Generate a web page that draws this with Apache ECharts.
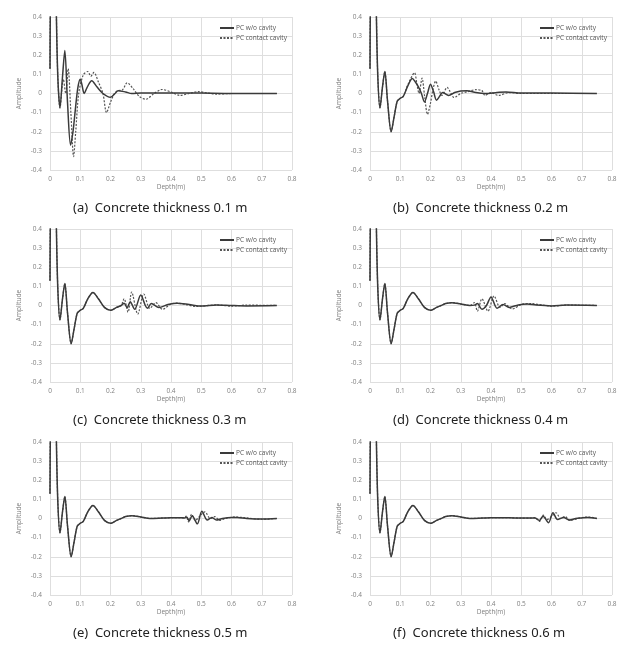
<!DOCTYPE html>
<html>
<head>
<meta charset="utf-8">
<script src="https://cdn.jsdelivr.net/npm/echarts@6/dist/echarts.min.js"></script>
<style>
html, body { margin: 0; padding: 0; background: #fff; }
#chart { width: 643px; height: 649px; }
</style>
</head>
<body>
<div id="chart"></div>
<script>
var seriesNames = ['PC w/o cavity', 'PC contact cavity'];
var captions = [
	'(a)  Concrete thickness 0.1 m',
	'(b)  Concrete thickness 0.2 m',
	'(c)  Concrete thickness 0.3 m',
	'(d)  Concrete thickness 0.4 m',
	'(e)  Concrete thickness 0.5 m',
	'(f)  Concrete thickness 0.6 m'
];

// common start of every trace (depth m, amplitude)
var startUp = [[0, 0.13], [0.001, 0.42], [0.006, 0.9], [0.012, 1.0], [0.018, 0.85], [0.021, 0.42], [0.026, 0.08], [0.033, -0.075]];
var baseEarly = [[0.041, 0.03], [0.049, 0.115], [0.058, -0.04], [0.07, -0.2], [0.08, -0.12], [0.09, -0.04], [0.1, -0.025], [0.11, -0.015]];
var baseHump = [[0.125, 0.035], [0.142, 0.068], [0.16, 0.035], [0.18, -0.01], [0.2, -0.025], [0.22, -0.01], [0.235, 0.0]];
var baseLate1 = [[0.25, 0.01], [0.27, 0.015], [0.3, 0.008], [0.33, 0.0]];
var baseLate2 = [[0.37, 0.002], [0.4, 0.004], [0.43, 0.004]];
var baseLate3 = [[0.46, 0.004], [0.5, 0.002], [0.53, 0.002]];

// (a) 0.1 m
var aSolid = [[0.041, 0.08], [0.049, 0.225], [0.058, -0.05], [0.068, -0.27], [0.076, -0.2], [0.084, -0.08], [0.092, 0.03], [0.1, 0.075], [0.105, 0.05], [0.113, 0.0], [0.122, 0.03], [0.138, 0.067], [0.155, 0.035], [0.175, 0.0], [0.2, -0.02], [0.215, 0.0], [0.225, 0.015], [0.25, 0.008], [0.27, 0.0], [0.3, 0.002], [0.4, 0.003], [0.5, 0.002], [0.6, 0.0], [0.75, 0.0]];
var aDashed = [[0.044, 0.075], [0.052, 0.0], [0.06, 0.13], [0.069, -0.1], [0.078, -0.33], [0.085, -0.2], [0.095, 0.0], [0.11, 0.097], [0.125, 0.115], [0.135, 0.09], [0.145, 0.11], [0.16, 0.06], [0.175, 0.0], [0.187, -0.1], [0.2, -0.045], [0.213, 0.0], [0.225, 0.015], [0.24, 0.02], [0.255, 0.056], [0.275, 0.025], [0.295, -0.015], [0.317, -0.03], [0.34, -0.005], [0.37, 0.021], [0.4, 0.008], [0.43, -0.01], [0.46, 0.0], [0.49, 0.01], [0.52, 0.003], [0.55, -0.003], [0.6, 0.0], [0.75, 0.0]];

// (b) 0.2 m
var bSolid = [[0.125, 0.04], [0.14, 0.079], [0.15, 0.06], [0.16, 0.035], [0.17, 0.0], [0.18, -0.044], [0.19, 0.0], [0.2, 0.049], [0.21, 0.01], [0.22, -0.035], [0.23, -0.015], [0.24, 0.005], [0.26, -0.01], [0.28, 0.005], [0.3, 0.013], [0.32, 0.015], [0.35, 0.005], [0.38, 0.0], [0.42, 0.005], [0.45, 0.008], [0.5, 0.002], [0.6, 0.002], [0.75, 0.0]];
var bDashed = [[0.125, 0.045], [0.147, 0.108], [0.155, 0.05], [0.162, 0.0], [0.172, 0.08], [0.181, -0.02], [0.19, -0.109], [0.2, -0.05], [0.208, 0.02], [0.217, 0.065], [0.228, 0.02], [0.238, -0.01], [0.255, 0.032], [0.265, 0.01], [0.278, -0.021], [0.3, 0.0], [0.325, 0.01], [0.35, 0.02], [0.37, 0.015], [0.38, -0.01], [0.4, 0.005], [0.425, -0.01], [0.46, 0.005], [0.5, 0.0], [0.75, 0.0]];

// (c) 0.3 m
var cSolid = [[0.245, 0.012], [0.255, -0.012], [0.265, 0.02], [0.28, -0.02], [0.3, 0.055], [0.315, 0.0], [0.322, -0.015], [0.335, 0.01], [0.36, -0.01], [0.39, 0.005], [0.42, 0.012], [0.46, 0.005], [0.5, -0.003], [0.55, 0.003], [0.6, 0.0], [0.65, -0.002], [0.75, 0.0]];
var cDashed = [[0.245, 0.035], [0.258, -0.035], [0.27, 0.07], [0.29, -0.045], [0.31, 0.06], [0.33, -0.015], [0.35, 0.015], [0.372, -0.02], [0.4, 0.008], [0.42, 0.012], [0.45, 0.005], [0.48, -0.005], [0.55, 0.003], [0.6, -0.003], [0.65, 0.002], [0.75, 0.0]];

// (d) 0.4 m
var dSolid = [[0.345, 0.002], [0.355, 0.01], [0.37, -0.02], [0.385, 0.0], [0.4, 0.045], [0.42, -0.015], [0.44, 0.005], [0.46, -0.01], [0.49, 0.003], [0.52, 0.008], [0.55, 0.002], [0.6, -0.002], [0.65, 0.002], [0.75, 0.0]];
var dDashed = [[0.345, 0.015], [0.355, -0.03], [0.37, 0.035], [0.39, -0.03], [0.41, 0.05], [0.43, -0.01], [0.445, 0.01], [0.47, -0.018], [0.5, 0.005], [0.53, 0.01], [0.6, -0.003], [0.65, 0.002], [0.75, 0.0]];

// (e) 0.5 m
var eSolid = [[0.445, 0.003], [0.452, 0.008], [0.46, -0.012], [0.47, 0.015], [0.487, -0.028], [0.502, 0.038], [0.52, -0.008], [0.535, 0.005], [0.55, -0.008], [0.57, 0.0], [0.6, 0.005], [0.62, 0.005], [0.65, 0.0], [0.7, -0.003], [0.75, 0.0]];
var eDashed = [[0.445, 0.003], [0.45, 0.012], [0.458, -0.018], [0.468, 0.022], [0.48, -0.01], [0.495, 0.012], [0.512, 0.035], [0.53, 0.0], [0.545, 0.01], [0.56, -0.01], [0.58, 0.0], [0.61, 0.008], [0.65, 0.003], [0.7, -0.004], [0.75, 0.0]];

// (f) 0.6 m
var fSolid = [[0.545, 0.003], [0.56, -0.01], [0.572, 0.012], [0.59, -0.022], [0.605, 0.03], [0.62, -0.005], [0.64, 0.005], [0.66, -0.008], [0.68, 0.0], [0.7, 0.003], [0.72, 0.005], [0.75, 0.0]];
var fDashed = [[0.545, 0.005], [0.56, -0.015], [0.573, 0.018], [0.585, -0.005], [0.6, 0.01], [0.615, 0.03], [0.63, 0.0], [0.645, 0.01], [0.66, -0.01], [0.68, -0.003], [0.7, 0.005], [0.72, 0.008], [0.75, 0.0]];

var panels = [
	{ solid: startUp.concat(aSolid), dashed: startUp.concat(aDashed) },
	{ solid: startUp.concat(baseEarly, bSolid), dashed: startUp.concat(baseEarly, bDashed) },
	{ solid: startUp.concat(baseEarly, baseHump, cSolid), dashed: startUp.concat(baseEarly, baseHump, cDashed) },
	{ solid: startUp.concat(baseEarly, baseHump, baseLate1, dSolid), dashed: startUp.concat(baseEarly, baseHump, baseLate1, dDashed) },
	{ solid: startUp.concat(baseEarly, baseHump, baseLate1, baseLate2, eSolid), dashed: startUp.concat(baseEarly, baseHump, baseLate1, baseLate2, eDashed) },
	{ solid: startUp.concat(baseEarly, baseHump, baseLate1, baseLate2, baseLate3, fSolid), dashed: startUp.concat(baseEarly, baseHump, baseLate1, baseLate2, baseLate3, fDashed) }
];

var colLeft = [50, 370];
var rowTop = [17, 229, 442];
var plotW = 242, plotH = 153;
var tickFont = { fontSize: 6.5, color: '#7f7f7f', fontFamily: 'Open Sans' };

var grids = [], xAxes = [], yAxes = [], series = [], legends = [], titles = [];
for (var i = 0; i < panels.length; i++) {
	var gl = colLeft[i % 2], gt = rowTop[Math.floor(i / 2)];
	grids.push({ left: gl, top: gt, width: plotW, height: plotH });
	xAxes.push({
		type: 'value', gridIndex: i, min: 0, max: 0.8, interval: 0.1,
		name: 'Depth(m)', nameLocation: 'middle', nameGap: 13,
		nameTextStyle: { fontSize: 6.5, color: '#7f7f7f', fontFamily: 'Open Sans' },
		axisLine: { show: false }, axisTick: { show: false },
		axisLabel: Object.assign({ margin: 6 }, tickFont),
		splitLine: { lineStyle: { color: '#dedede', width: 1 } }
	});
	yAxes.push({
		type: 'value', gridIndex: i, min: -0.4, max: 0.4, interval: 0.1,
		name: 'Amplitude', nameLocation: 'middle', nameGap: 27, nameRotate: 90,
		nameTextStyle: { fontSize: 6.5, color: '#7f7f7f', fontFamily: 'Open Sans' },
		axisLine: { show: false }, axisTick: { show: false },
		axisLabel: Object.assign({ margin: 8, formatter: function (v) { return Math.abs(v) < 1e-9 ? '0' : String(+v.toFixed(1)); } }, tickFont),
		splitLine: { lineStyle: { color: '#dedede', width: 1 } }
	});
	series.push({
		name: seriesNames[0], type: 'line', xAxisIndex: i, yAxisIndex: i,
		data: panels[i].solid, showSymbol: false, symbol: 'none', smooth: 0.3, clip: true,
		lineStyle: { color: '#3a3a3a', width: 1.5, type: 'solid' }, itemStyle: { color: '#3a3a3a' }, z: 3
	});
	series.push({
		name: seriesNames[1], type: 'line', xAxisIndex: i, yAxisIndex: i,
		data: panels[i].dashed, showSymbol: false, symbol: 'none', smooth: 0.3, clip: true,
		lineStyle: { color: '#555555', width: 1.2, type: [2, 1.5] }, itemStyle: { color: '#555555' }, z: 2
	});
	legends.push({
		data: seriesNames, orient: 'vertical', left: gl + 164, top: gt + 2,
		itemWidth: 14, itemHeight: 6, itemGap: 2,
		itemStyle: { opacity: 0 },
		textStyle: { fontSize: 6.5, color: '#555', fontFamily: 'Open Sans', lineHeight: 8, padding: [0, 0, 0, -3] },
		selectedMode: false
	});
	titles.push({
		text: captions[i], left: gl + 18, top: gt + 180,
		textStyle: { fontSize: 13, fontWeight: 'normal', color: '#222', fontFamily: 'Noto Sans' }
	});
}

var chart = echarts.init(document.getElementById('chart'), null, { renderer: 'canvas' });
chart.setOption({
	backgroundColor: '#fff',
	animation: false,
	title: titles,
	legend: legends,
	grid: grids,
	xAxis: xAxes,
	yAxis: yAxes,
	series: series
});
</script>
</body>
</html>
